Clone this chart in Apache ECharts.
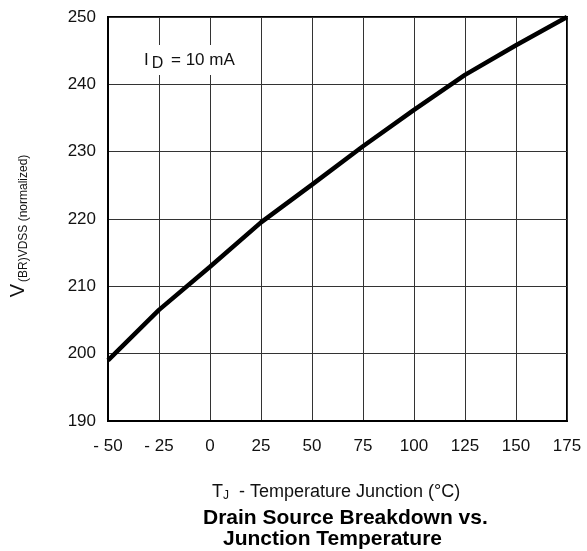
<!DOCTYPE html>
<html>
<head>
<meta charset="utf-8">
<script src="https://cdn.jsdelivr.net/npm/echarts@6/dist/echarts.min.js"></script>
<style>html,body{margin:0;padding:0;background:#fff;}#c{width:587px;height:551px;}</style>
</head>
<body>
<div id="c"></div>
<script>
var temperatures = [-50, -25, 0, 25, 50, 75, 100, 125, 150, 175];
var breakdownVoltage = [199.0, 206.5, 212.9, 219.5, 225.1, 230.8, 236.2, 241.4, 245.8, 250.0];
var xTicks = [-50, -25, 0, 25, 50, 75, 100, 125, 150, 175];
var yTicks = [190, 200, 210, 220, 230, 240, 250];

var FONT = "'Liberation Sans', Arial, Helvetica, sans-serif";
var chart = echarts.init(document.getElementById('c'), null, {renderer: 'canvas'});
var data = temperatures.map(function (t, i) { return [t, breakdownVoltage[i]]; });

chart.setOption({
  animation: false,
  backgroundColor: '#fff',
  grid: {left: 104, right: 20, top: 17, bottom: 130, show: true, borderColor: '#000', borderWidth: 2, backgroundColor: 'transparent'},
  xAxis: {
    type: 'value', min: xTicks[0], max: xTicks[xTicks.length - 1], interval: 25,
    axisLine: {show: true, onZero: false, lineStyle: {color: '#000', width: 2}},
    axisTick: {show: false},
    splitLine: {show: true, lineStyle: {color: '#333', width: 1}},
    axisLabel: {
      margin: 17, color: '#111', fontSize: 17, fontFamily: FONT,
      formatter: function (v) { return v < 0 ? '- ' + Math.abs(v) : String(v); }
    }
  },
  yAxis: {
    type: 'value', min: yTicks[0], max: yTicks[yTicks.length - 1], interval: 10,
    axisLine: {show: true, onZero: false, lineStyle: {color: '#000', width: 2}},
    axisTick: {show: false},
    splitLine: {show: true, lineStyle: {color: '#333', width: 1}},
    axisLabel: {margin: 12, color: '#111', fontSize: 17, fontFamily: FONT},
    name: '{a|V}{b|(BR)VDSS (normalized)}',
    nameLocation: 'middle', nameGap: 78, nameRotate: 90,
    nameTextStyle: {
      fontFamily: FONT, color: '#111', padding: [0, 14, 0, 0],
      rich: {
        a: {fontSize: 20, fontFamily: FONT, color: '#111', lineHeight: 24, verticalAlign: 'middle'},
        b: {fontSize: 12, fontFamily: FONT, color: '#111', lineHeight: 24, verticalAlign: 'bottom', padding: [0, 0, 0, 2]}
      }
    }
  },
  series: [{
    type: 'line', data: data, symbol: 'none', smooth: false,
    lineStyle: {color: '#000', width: 4.5}, z: 5
  }],
  graphic: [
    {
      type: 'text', left: 138, top: 45, z: 10,
      style: {
        text: '{a|I}{b|D}{a| = 10 mA}',
        backgroundColor: '#fff', padding: [3, 6, 3, 6],
        rich: {
          a: {fontSize: 17, fontFamily: FONT, fill: '#111', lineHeight: 24, verticalAlign: 'middle'},
          b: {fontSize: 16, fontFamily: FONT, fill: '#111', lineHeight: 16, verticalAlign: 'bottom', padding: [0, 3, 0, 3]}
        }
      }
    },
    {
      type: 'text', left: 212, top: 483, z: 10,
      style: {
        text: '{a|T}{b|J}{a|  - Temperature Junction (°C)}',
        rich: {
          a: {fontSize: 18, fontFamily: FONT, fill: '#111', lineHeight: 20, verticalAlign: 'middle'},
          b: {fontSize: 12, fontFamily: FONT, fill: '#111', lineHeight: 20, verticalAlign: 'bottom'}
        }
      }
    },
    {
      type: 'text', left: 203, top: 508, z: 10,
      style: {text: 'Drain Source Breakdown vs.', font: 'bold 21px ' + FONT, fill: '#000'}
    },
    {
      type: 'text', left: 223, top: 529, z: 10,
      style: {text: 'Junction Temperature', font: 'bold 21px ' + FONT, fill: '#000'}
    }
  ]
});
</script>
</body>
</html>
